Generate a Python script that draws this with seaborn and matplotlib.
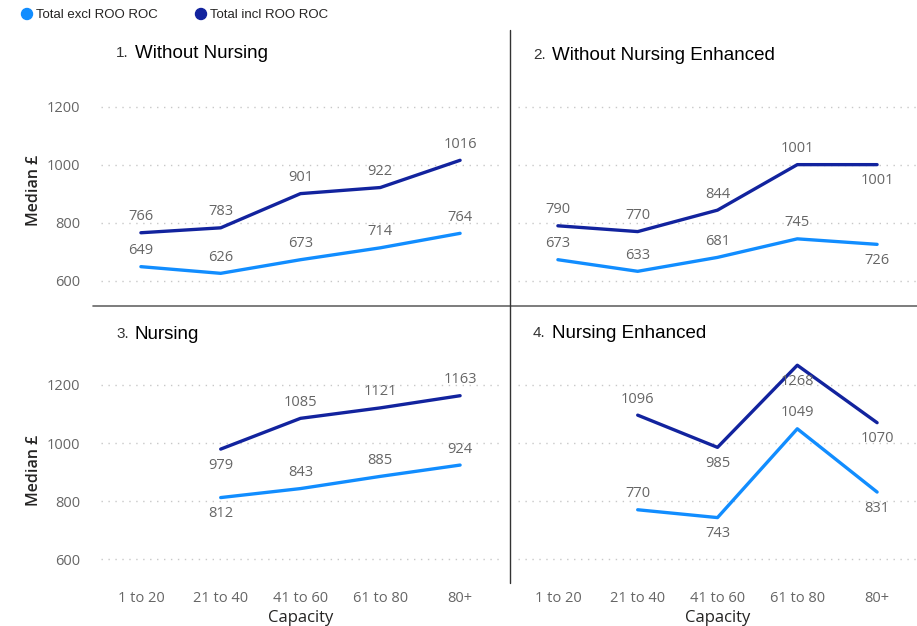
import numpy as np
import pandas as pd
import matplotlib
matplotlib.use('Agg')
import matplotlib.pyplot as plt
import seaborn as sns

capacity = ['1 to 20', '21 to 40', '41 to 60', '61 to 80', '80+']
titles = ['Without Nursing', 'Without Nursing Enhanced', 'Nursing', 'Nursing Enhanced']
series = ['Total excl ROO ROC', 'Total incl ROO ROC']
excl = [[649, 626, 673, 714, 764],
        [673, 633, 681, 745, 726],
        [np.nan, 812, 843, 885, 924],
        [np.nan, 770, 743, 1049, 831]]
incl = [[766, 783, 901, 922, 1016],
        [790, 770, 844, 1001, 1001],
        [np.nan, 979, 1085, 1121, 1163],
        [np.nan, 1096, 985, 1268, 1070]]
# label above (1) or below (-1) the point
excl_pos = [[1, 1, 1, 1, 1], [1, 1, 1, 1, -1], [1, -1, 1, 1, 1], [1, 1, -1, 1, -1]]
incl_pos = [[1, 1, 1, 1, 1], [1, 1, 1, 1, -1], [1, -1, 1, 1, 1], [1, 1, -1, -1, -1]]

colors = {'Total excl ROO ROC': '#118DFF', 'Total incl ROO ROC': '#12239E'}

sns.set_style('white')
plt.rcParams['font.family'] = ['Open Sans', 'DejaVu Sans']

W, H = 917, 626
fig = plt.figure(figsize=(W / 100, H / 100), dpi=100)


def box(x0, y0, x1, y1):
    return [x0 / W, 1 - y1 / H, (x1 - x0) / W, (y1 - y0) / H]


boxes = [box(101, 80, 500, 300), box(518, 80, 917, 300),
         box(101, 360, 500, 580), box(518, 360, 917, 580)]
ylims = [(534, 1293), (534, 1293), (528, 1286), (528, 1286)]
title_xy = [(116, 53), (533, 55), (116, 334), (533, 333)]

for i in range(4):
    ax = fig.add_axes(boxes[i])
    df = pd.DataFrame({
        'x': list(range(5)) * 2,
        'y': excl[i] + incl[i],
        'series': [series[0]] * 5 + [series[1]] * 5,
    }).dropna()
    sns.lineplot(data=df, x='x', y='y', hue='series', palette=colors,
                 linewidth=2.4, legend=False, ax=ax, sort=False)
    for vals, pos in ((excl[i], excl_pos[i]), (incl[i], incl_pos[i])):
        for j, v in enumerate(vals):
            if np.isnan(v):
                continue
            ax.annotate(f'{int(v)}', (j, v), xytext=(0, 11.5 * pos[j]), textcoords='offset points',
                        ha='center', va='center', fontsize=10.5, color='#666666')
    ax.set_xlim(-0.5, 4.5)
    ax.set_ylim(*ylims[i])
    ax.set_yticks([600, 800, 1000, 1200])
    ax.yaxis.grid(True, linestyle=(0, (1, 4)), color='#c8c8c8', linewidth=1)
    for s in ax.spines.values():
        s.set_visible(False)
    ax.tick_params(length=0, labelsize=10.5, colors='#666666', pad=15)
    ax.set_xlabel('')
    ax.set_ylabel('')
    if i % 2 == 0:
        ax.set_ylabel('Median £', fontsize=11.5, color='#252423', fontweight='semibold', labelpad=3)
    else:
        ax.set_yticklabels([])
    if i >= 2:
        ax.set_xticks(range(5))
        ax.set_xticklabels(capacity)
        ax.tick_params(axis='x', pad=8)
        ax.set_xlabel('Capacity', fontsize=12, color='#252423', labelpad=3)
    else:
        ax.set_xticks([])
    tx, ty = title_xy[i]
    fig.text(tx / W, 1 - ty / H, f'{i + 1}.', fontsize=11, color='#333333',
             family=['Liberation Sans'], va='center')
    fig.text((tx + 19) / W, 1 - ty / H, titles[i], fontsize=13.5, color='#000000',
             family=['Liberation Sans'], va='center')

# divider lines
fig.add_artist(plt.Line2D([93 / W, 1], [1 - 306 / H] * 2, color='#666666', linewidth=1.2))
fig.add_artist(plt.Line2D([510 / W] * 2, [1 - 30 / H, 1 - 583 / H], color='#333333', linewidth=1))

# legend
for lx, name in ((27, series[0]), (201, series[1])):
    fig.add_artist(matplotlib.patches.Ellipse((lx / W, 1 - 14 / H), 11 / W, 11 / H,
                                              color=colors[name], transform=fig.transFigure))
    fig.text((lx + 9) / W, 1 - 15 / H, name, fontsize=9.5, color='#252423',
             family=['Liberation Sans'], va='center')

fig.savefig('out.png', dpi=100)
